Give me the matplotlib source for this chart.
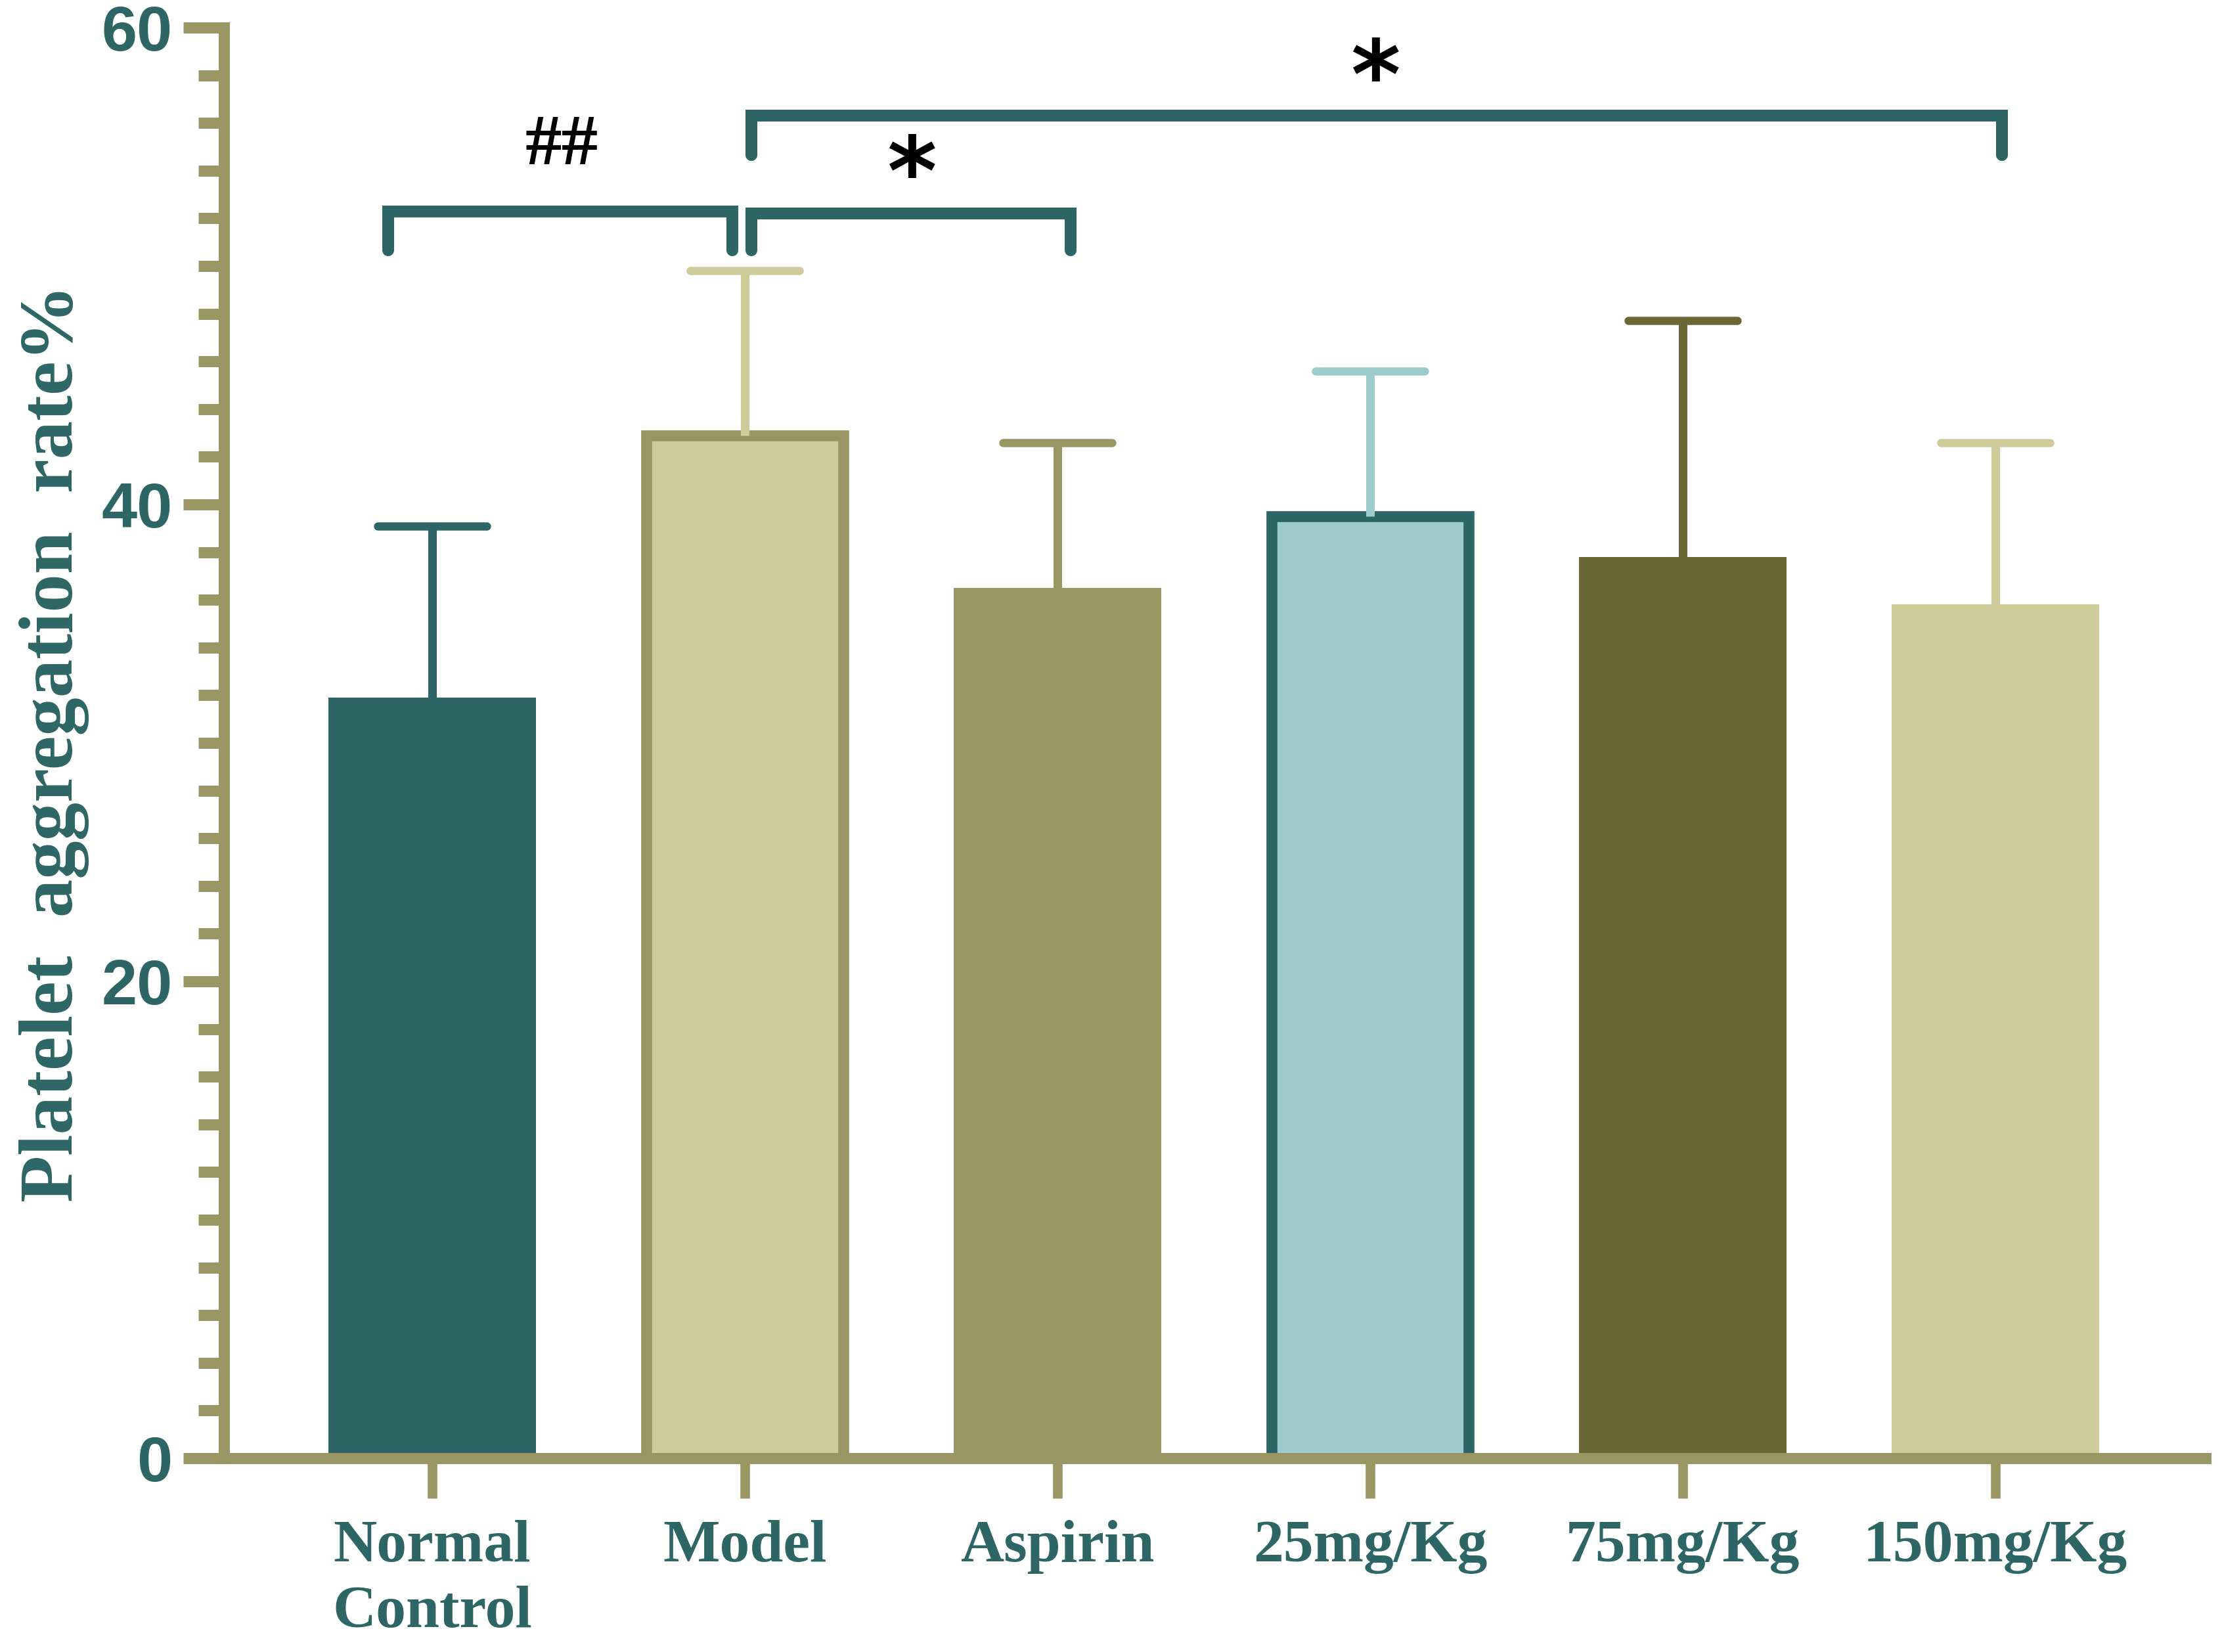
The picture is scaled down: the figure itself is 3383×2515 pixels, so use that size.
import matplotlib
matplotlib.use("Agg")
import matplotlib.pyplot as plt
from matplotlib.ticker import MultipleLocator
from matplotlib.markers import MarkerStyle

# data
groups = ["Normal\nControl", "Model", "Aspirin", "25mg/Kg", "75mg/Kg", "150mg/Kg"]
means = [31.9, 42.9, 36.5, 39.5, 37.8, 35.8]
sds = [7.2, 6.9, 6.1, 6.1, 9.9, 6.8]

fill_colors = ["#2d6664", "#cfcb9a", "#9a9664", "#9ecccc", "#6b6734", "#cfcb9a"]
edge_colors = [None, "#9a9664", None, "#2d6664", None, None]
err_colors = ["#2d6664", "#cfcb9a", "#9a9664", "#9ecccc", "#6b6734", "#cfcb9a"]

# significance brackets: (left x, right x, bar height, leg bottom, label)
brackets = [
    (-0.141, 0.960, 52.3, 50.65, "##"),
    (1.021, 2.042, 52.2, 50.65, "*"),
    (1.021, 5.02, 56.3, 54.65, "*"),
]
# centre of each label glyph
label_pos = [(0.414, 55.0), (1.534, 54.6), (3.017, 58.65)]

TEAL = "#2d6664"
OLIVE = "#9a9664"

fig = plt.figure(figsize=(33.83, 25.15), dpi=100)
ax = fig.add_axes([0.1008, 0.1173, 0.8918, 0.866])

x = list(range(len(groups)))
for i in x:
    if edge_colors[i] is None:
        ax.bar(i, means[i], width=0.664, color=fill_colors[i], linewidth=0, zorder=2)
    else:
        ax.bar(i, means[i], width=0.629, color=fill_colors[i], edgecolor=edge_colors[i],
               linewidth=12, zorder=2)
    eb = ax.errorbar(i, means[i], yerr=[[0], [sds[i]]], fmt="none", ecolor=err_colors[i],
                     elinewidth=9.4, capsize=60, capthick=9, zorder=3)
    for cap in eb[1]:
        if cap.get_ydata()[0] <= means[i]:
            cap.set_visible(False)
        cap.set_marker(MarkerStyle("_", capstyle="round"))

for (x0, x1, yb, yl, txt), (tx, ty) in zip(brackets, label_pos):
    ax.plot([x0, x0, x1, x1], [yl, yb, yb, yl], color=TEAL, lw=13,
            solid_joinstyle="miter", solid_capstyle="round", clip_on=False, zorder=4)
    if txt == "##":
        ax.text(tx, ty, txt, ha="center", va="center", fontsize=80,
                family="Liberation Serif", fontweight="bold", color="black")
    else:
        # the asterisk sits about 2 units above its baseline
        ax.text(tx, ty - 2.0, txt, ha="center", va="baseline", fontsize=104,
                family="DejaVu Sans", fontweight="bold", color="black")

ax.set_xlim(-0.666, 5.672)
ax.set_ylim(0, 60)

for side in ["top", "right"]:
    ax.spines[side].set_visible(False)
for side in ["left", "bottom"]:
    ax.spines[side].set_linewidth(12.2)
    ax.spines[side].set_color(OLIVE)

ax.set_yticks([0, 20, 40, 60])
ax.yaxis.set_minor_locator(MultipleLocator(2))
ax.tick_params(axis="y", which="major", length=44.6, width=12.2, color=OLIVE, pad=12)
ax.tick_params(axis="y", which="minor", length=28, width=12.2, color=OLIVE)
ax.tick_params(axis="x", which="major", length=44, width=10.5, color=OLIVE, pad=24)

ax.set_xticks(x)
ax.set_xticklabels(groups, fontsize=66, family="Liberation Serif", fontweight="bold",
                   color=TEAL, linespacing=1.28)
for lab in ax.get_yticklabels():
    lab.set_fontsize(70)
    lab.set_family("Liberation Sans")
    lab.set_fontweight("bold")
    lab.set_color(TEAL)

ax.set_ylabel("Platelet  aggregation  rate%", fontsize=84, family="Liberation Serif",
              fontweight="bold", color=TEAL)
ax.yaxis.set_label_coords(-0.068, 0.5)

fig.savefig("out.png", dpi=100)
